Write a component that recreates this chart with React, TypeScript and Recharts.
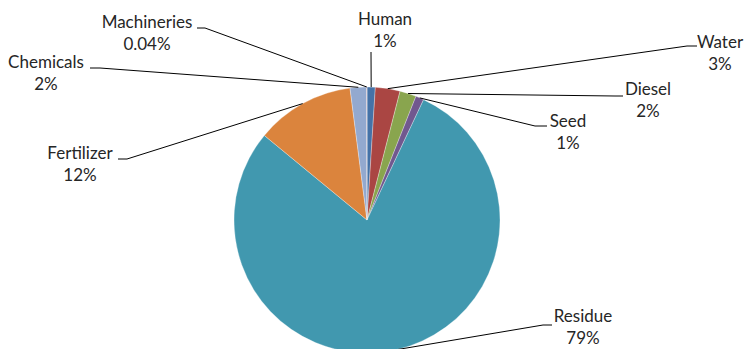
import { PieChart, Pie, Cell } from 'recharts'

const sources = ['Human', 'Water', 'Diesel', 'Seed', 'Residue', 'Fertilizer', 'Chemicals', 'Machineries']
const shares = [1, 3, 2, 1, 79, 12, 2, 0.04]
const shareLabels = ['1%', '3%', '2%', '1%', '79%', '12%', '2%', '0.04%']
const colors = ['#4572A7', '#AA4643', '#89A54E', '#71588F', '#4198AF', '#DB843D', '#93A9CF', '#D19392']

// where each callout sits: text centre, first baseline, leader elbow and end next to the text
const labelLayout = [
    { tx: 385, ty: 25, elbow: [371, 52], end: [371, 52] },
    { tx: 720, ty: 48, elbow: [687, 46], end: [697, 46] },
    { tx: 648, ty: 95, elbow: [615, 96], end: [623, 96] },
    { tx: 568, ty: 127, elbow: [535, 126], end: [547, 126] },
    { tx: 583, ty: 322, elbow: [543, 325], end: [552, 325] },
    { tx: 80, ty: 159, elbow: [127, 159], end: [118, 159] },
    { tx: 46, ty: 68, elbow: [100, 68], end: [90, 68] },
    { tx: 147, ty: 28, elbow: [205, 28], end: [197, 28] },
]

const data = sources.map((name, i) => ({ name, value: shares[i], label: shareLabels[i] }))

const RAD = Math.PI / 180

const renderLabel = (props: any) => {
    const { cx, cy, midAngle, outerRadius, index } = props
    const layout = labelLayout[index]
    const sx = cx + outerRadius * Math.cos(-midAngle * RAD)
    const sy = cy + outerRadius * Math.sin(-midAngle * RAD)
    const pts = `${sx},${sy} ${layout.elbow[0]},${layout.elbow[1]} ${layout.end[0]},${layout.end[1]}`
    return (
        <g key={`lbl-${index}`}>
            <polyline points={pts} fill="none" stroke="#000" strokeWidth={1} />
            <text x={layout.tx} y={layout.ty} textAnchor="middle" fill="#262626" fontSize={17} fontFamily="Lato, sans-serif">
                {data[index].name}
            </text>
            <text x={layout.tx} y={layout.ty + 22} textAnchor="middle" fill="#262626" fontSize={17} fontFamily="Lato, sans-serif">
                {data[index].label}
            </text>
        </g>
    )
}

const App = () => {
    return (
        <div style={{ position: 'absolute', left: 0, top: 0, width: 745, height: 349, background: '#fff' }}>
            <PieChart width={745} height={349} margin={{ top: 0, right: 0, bottom: 0, left: 0 }}>
                <Pie
                    data={data}
                    dataKey="value"
                    nameKey="name"
                    cx={367}
                    cy={220}
                    outerRadius={133}
                    startAngle={90}
                    endAngle={-270}
                    stroke="#fff"
                    strokeWidth={0.3}
                    label={renderLabel}
                    labelLine={false}
                    isAnimationActive={false}
                >
                    {data.map((d, i) => (
                        <Cell key={d.name} fill={colors[i]} />
                    ))}
                </Pie>
            </PieChart>
        </div>
    )
}

export default App
